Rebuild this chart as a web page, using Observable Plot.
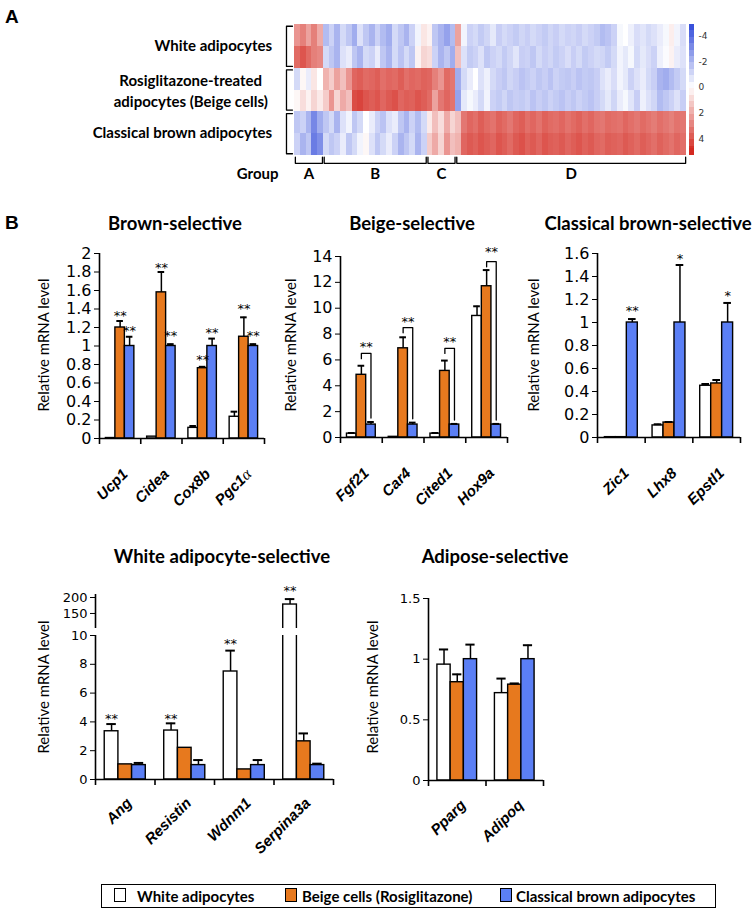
<!DOCTYPE html>
<html><head><meta charset="utf-8">
<script src="https://cdn.jsdelivr.net/npm/d3@7"></script>
<script src="https://cdn.jsdelivr.net/npm/@observablehq/plot@0.6"></script>
<style>
body{margin:0;background:#fff;}
#page{position:relative;width:756px;height:918px;overflow:hidden;background:#fff;}
.title{position:absolute;font:bold 18.5px Lato,sans-serif;transform:translate(-50%,-50%);white-space:nowrap;color:#000;}
.ylab{position:absolute;font:15px Lato,sans-serif;white-space:nowrap;transform:translate(-50%,-50%) rotate(-90deg);color:#000;}
.panel{position:absolute;font:bold 19px "Liberation Sans",Arial,sans-serif;color:#000;}
.legtxt{position:absolute;font:bold 15px Lato,sans-serif;white-space:nowrap;transform:translateY(-50%);}
.legsq{position:absolute;width:10px;height:12px;border:1.4px solid #000;}
svg{overflow:visible;}
</style></head><body><div id="page"></div>
<script>
// ================= DATA =================
// Panel A heatmap (z-scores), 6 rows: White r1, White r2, Beige r1, Beige r2, Brown r1, Brown r2
const heatSampleNames = ["White adipocytes", "Rosiglitazone-treated\nadipocytes (Beige cells)", "Classical brown adipocytes"];
const heatGroupNames = ["A", "B", "C", "D"];
const heatGroupA = [
  [2.5, 3.0, 2.2, 3.0, 2.0],
  [3.5, 4.0, 3.5, 3.0, 2.8],
  [-1.0, 0.2, -0.5, 0.6, 0.0],
  [0.2, 0.8, 0.3, 1.0, 0.5],
  [-1.5, -1.2, -2.0, -3.2, -2.2],
  [-1.2, -2.0, -1.5, -3.5, -3.0]
];
const heatGroupB = [
  [-1.8, -1.2, -2.0, -1.0, -1.5, -2.2, -0.8, -1.5, -2.0, -1.2, -1.8, -2.2, -1.0, -1.5, -2.0, -1.2, -0.3, 0.6],
  [-1.0, -1.5, -2.0, -0.8, -0.5, -1.5, -2.0, -1.0, -1.2, -0.5, -1.5, -2.0, -1.0, -1.6, -1.0, -1.5, 0.3, 1.0],
  [1.8, 1.2, 2.2, 1.5, 2.5, 3.6, 3.8, 3.5, 3.6, 3.8, 3.4, 3.6, 3.5, 3.8, 3.4, 3.6, 3.5, 3.7],
  [1.2, 2.5, 1.0, 2.0, 1.5, 4.2, 4.4, 4.0, 3.8, 4.0, 3.6, 3.9, 4.1, 3.6, 3.8, 3.7, 4.0, 3.8],
  [-1.5, -1.0, -2.0, -0.8, -0.3, -1.5, -1.0, 0.0, -0.5, -1.2, -1.6, -0.8, -0.5, -1.5, -2.0, -1.2, -1.8, -1.0],
  [-1.0, -1.5, -1.2, -0.5, -1.5, -1.0, -0.3, 0.2, -0.8, -1.5, -1.0, -0.5, -1.2, -2.0, -1.5, -1.0, -2.0, -1.2]
];
const heatGroupC = [
  [0.3, -1.5, -2.0, -2.5, -1.8],
  [0.8, -1.2, -2.0, -1.5, -2.2],
  [3.6, 3.0, 2.5, 3.5, 3.2],
  [3.5, 2.2, 3.2, 3.6, 3.3],
  [0.5, 1.5, 0.8, 2.0, 1.0],
  [1.2, 2.0, 1.0, 2.5, 1.5]
];
const heatGroupD = [
  [2.2, -0.3, -1.2, -1.0, -1.4, -1.1, -0.6, -1.3, -1.0, -1.2, -1.4, -1.1, -1.3, -1.0, -1.2, -1.4, -1.1, -1.3, -1.0, -1.2, -1.1, -1.3, -1.0, -1.2, -1.4, -1.8, -1.6, -1.2, -0.2, 0.0, -0.4, -0.9, -0.7, -1.0, -0.8, -0.5, -0.2, 0.4, -0.3, -0.9],
  [1.5, -0.8, -1.4, -1.2, -0.8, -1.5, -1.2, -1.0, -1.4, -1.1, -0.7, -1.3, -1.2, -1.5, -1.0, -1.3, -1.1, -1.4, -1.2, -0.9, -1.3, -1.0, -1.4, -1.2, -1.0, -1.1, -1.4, -1.0, -0.3, -0.6, -0.2, -1.0, -0.6, -0.9, -1.2, -0.4, -0.1, 0.3, -0.5, -0.8],
  [-2.2, -1.0, -0.5, 0.0, -0.8, -0.4, -1.0, -1.3, -1.5, -1.1, -1.3, -1.6, -1.4, -1.2, -1.5, -1.3, -1.6, -1.2, -1.4, -1.5, -1.3, -1.6, -1.4, -1.5, -1.3, -0.8, -0.5, -0.9, -0.3, -0.6, -1.2, -0.8, -0.5, -1.0, -1.3, -2.0, -2.2, -1.8, -1.4, -1.0],
  [-2.5, -0.6, -0.2, -0.5, -1.0, -0.3, -1.2, -1.4, -1.1, -1.5, -1.3, -1.4, -1.2, -1.6, -1.3, -1.5, -1.2, -1.4, -1.6, -1.3, -1.5, -1.2, -1.4, -1.6, -1.3, -1.0, -0.6, -1.1, -0.5, -0.2, -0.7, -1.3, -0.4, -0.8, -1.1, -1.8, -1.5, -1.2, -0.8, -1.3],
  [1.5, 3.2, 3.6, 3.4, 3.8, 3.5, 3.3, 3.7, 3.5, 3.2, 3.6, 3.8, 3.4, 3.6, 3.3, 3.7, 3.5, 3.4, 3.6, 3.3, 3.5, 3.7, 3.4, 3.6, 3.3, 3.2, 3.5, 3.4, 3.3, 3.6, 3.4, 3.2, 3.5, 3.3, 3.1, 3.4, 3.2, 3.0, 3.3, 3.2],
  [1.8, 3.6, 3.9, 3.7, 4.0, 3.8, 3.6, 4.0, 3.8, 3.5, 3.9, 4.1, 3.7, 3.9, 3.6, 4.0, 3.8, 3.7, 3.9, 3.6, 3.8, 4.0, 3.7, 3.9, 3.6, 3.5, 3.8, 3.7, 3.6, 3.9, 3.7, 3.5, 3.8, 3.6, 3.4, 3.7, 3.5, 3.3, 3.6, 3.4]
];
const colorbarTicks = [-4, -2, 0, 2, 4];
const colorbarSteps = [-4.65, -4.15, -3.65, -3.15, -2.65, -2.15, -1.65, -1.15, -0.65, -0.15, 0.35, 0.85, 1.35, 1.85, 2.35, 2.85, 3.35, 3.85, 4.35, 4.85, 5.05];

// Panel B bar charts
const seriesKeys = ["W", "O", "B"];
const seriesColors = ["#ffffff", "#e7791e", "#5b7ff5"];
const legendLabels = ["White adipocytes", "Beige cells (Rosiglitazone)", "Classical brown adipocytes"];

const brownGenes = ["Ucp1", "Cidea", "Cox8b", "Pgc1α"];
const brownWhite = [0.005, 0.02, 0.115, 0.235];
const brownWhiteErr = [null, null, 0.135, 0.29];
const brownBeige = [1.2, 1.58, 0.76, 1.1];
const brownBeigeErr = [1.27, 1.8, 0.775, 1.31];
const brownClassical = [1, 1, 1, 1];
const brownClassicalErr = [1.1, 1.02, 1.08, 1.02];
const brownStarBeige = [1.36, 1.88, 0.89, 1.44];
const brownStarClassical = [1.2, 1.15, 1.18, 1.15];
const brownTicks = [0, 0.2, 0.4, 0.6, 0.8, 1, 1.2, 1.4, 1.6, 1.8, 2];

const beigeGenes = ["Fgf21", "Car4", "Cited1", "Hox9a"];
const beigeWhite = [0.3, 0.05, 0.3, 9.4];
const beigeWhiteErr = [0.35, null, 0.35, 10.15];
const beigeBeige = [4.85, 6.9, 5.15, 11.7];
const beigeBeigeErr = [5.55, 7.75, 5.95, 12.95];
const beigeClassical = [1, 1, 1, 1];
const beigeClassicalErr = [1.2, 1.15, 1.05, 1.05];
const beigeBracketTop = [6.5, 8.5, 6.9, 13.6];
const beigeBracketRightEnd = [1.5, 1.45, 1.35, 1.35];
const beigeStar = [7.25, 9.25, 7.65, 14.6];
const beigeTicks = [0, 2, 4, 6, 8, 10, 12, 14];

const classicalGenes = ["Zic1", "Lhx8", "Epstl1"];
const classicalWhite = [0.003, 0.105, 0.45];
const classicalWhiteErr = [null, 0.115, 0.465];
const classicalBeige = [0.003, 0.13, 0.47];
const classicalBeigeErr = [null, 0.135, 0.5];
const classicalClassical = [1, 1, 1];
const classicalClassicalErr = [1.03, 1.5, 1.17];
const classicalStarText = ["**", "*", "*"];
const classicalStar = [1.13, 1.58, 1.26];
const classicalTicks = [0, 0.2, 0.4, 0.6, 0.8, 1, 1.2, 1.4, 1.6];

const whiteGenes = ["Ang", "Resistin", "Wdnm1", "Serpina3a"];
const whiteWhite = [3.35, 3.4, 7.5, 178];
const whiteWhiteErr = [3.85, 3.9, 8.95, 195];
const whiteBeige = [1.05, 2.2, 0.7, 2.65];
const whiteBeigeErr = [null, null, null, 3.2];
const whiteClassical = [1, 1, 1, 1];
const whiteClassicalErr = [1.15, 1.35, 1.35, 1.1];
const whiteStar = [4.45, 4.45, 9.65, 231];
const whiteTicksLow = [0, 2, 4, 6, 8, 10];
const whiteTicksHigh = [150, 200];

const adiposeGenes = ["Pparg", "Adipoq"];
const adiposeWhite = [0.955, 0.72];
const adiposeWhiteErr = [1.08, 0.84];
const adiposeBeige = [0.81, 0.79];
const adiposeBeigeErr = [0.875, 0.8];
const adiposeClassical = [1, 1];
const adiposeClassicalErr = [1.12, 1.115];
const adiposeTicks = [0, 0.5, 1, 1.5];

// ================= HELPERS =================
const page = document.getElementById("page");
function put(el, left, top) {
  el.style.position = "absolute"; el.style.left = left + "px"; el.style.top = top + "px";
  page.appendChild(el); return el;
}
function div(cls, text, left, top) {
  const d = document.createElement("div"); d.className = cls; d.textContent = text;
  return put(d, left, top);
}
const heatColor = {type: "linear", domain: [-5, 5],
  interpolate: d3.piecewise(d3.interpolateRgb, ["#2a44d8", "#ffffff", "#d42b22"])};

// ================= PANEL A =================
const blocks = [heatGroupA, heatGroupB, heatGroupC, heatGroupD];
const cells = [];
const groupSpans = [];
let col = 0;
blocks.forEach((blk, g) => {
  const n = blk[0].length;
  blk.forEach((row, r) => row.forEach((v, j) => cells.push({r, c: col + j, v})));
  groupSpans.push({name: heatGroupNames[g], c0: col, c1: col + n});
  col += n;
});
const nCols = col;
const sampleSpans = heatSampleNames.map((name, k) => ({name, k, r0: 2 * k, r1: 2 * k + 2}));
const leftBr = sampleSpans.flatMap(s => [
  {k: s.k, x: -0.35, y: s.r0 + 0.08}, {k: s.k, x: -1.39, y: s.r0 + 0.08},
  {k: s.k, x: -1.39, y: s.r1 - 0.08}, {k: s.k, x: -0.35, y: s.r1 - 0.08}]);
const botBr = groupSpans.flatMap((s, k) => [
  {k, x: s.c0 + 0.15, y: 6.08}, {k, x: s.c0 + 0.15, y: 6.36},
  {k, x: s.c1 - 0.15, y: 6.36}, {k, x: s.c1 - 0.15, y: 6.08}]);
const labFont = {fontFamily: "Lato", fontWeight: "bold", fontSize: 15, fill: "black"};

const plotA = Plot.plot({
  width: 756, height: 192, marginLeft: 294, marginRight: 70, marginTop: 24, marginBottom: 37,
  x: {domain: [0, nCols], axis: null},
  y: {domain: [0, 6], reverse: true, axis: null},
  color: heatColor,
  style: {background: "transparent", color: "black"},
  marks: [
    Plot.rect(cells, {x1: "c", x2: d => d.c + 1, y1: "r", y2: d => d.r + 1, fill: "v", shapeRendering: "crispEdges"}),
    Plot.line(leftBr, {x: "x", y: "y", z: "k", stroke: "black", strokeWidth: 1.3}),
    Plot.line(botBr, {x: "x", y: "y", z: "k", stroke: "black", strokeWidth: 1.3}),
    Plot.text(sampleSpans.filter(s => s.k !== 1), {x: () => -3.9, y: s => (s.r0 + s.r1) / 2, text: "name", textAnchor: "end", ...labFont}),
    Plot.text(sampleSpans.filter(s => s.k === 1), {x: () => -18, y: s => (s.r0 + s.r1) / 2, text: "name", textAnchor: "middle", lineHeight: 1.4, ...labFont}),
    Plot.text(groupSpans, {x: s => (s.c0 + s.c1) / 2, y: () => 6.85, text: "name", ...labFont}),
    Plot.text(["Group"], {x: () => -6.4, y: () => 6.85, text: d => d, ...labFont})
  ]
});
put(plotA, 0, 0);

const plotCB = Plot.plot({
  width: 40, height: 136, marginLeft: 3, marginRight: 32, marginTop: 2, marginBottom: 3,
  x: {domain: [0, 1], axis: null},
  y: {domain: [-4.9, 5.3], reverse: true, axis: "right", ticks: colorbarTicks, tickSize: 0, tickPadding: 4, tickFormat: d => String(d), label: null},
  color: heatColor,
  style: {background: "transparent", color: "#333", fontFamily: "DejaVu Sans", fontSize: "9px"},
  marks: [
    Plot.rect(colorbarSteps, {x1: 0, x2: 1, y1: d => d - 0.26, y2: d => d + 0.26, fill: d => d, shapeRendering: "crispEdges"})
  ]
});
put(plotCB, 686, 22);

div("panel", "A", 5, 6);
div("panel", "B", 5, 212);

// ================= PANEL B =================
const barLeft = {W: 0.155, O: 0.385, B: 0.615};
const barW = 0.23;
const capHalf = 0.08;
function makeRows(genes, vals, errs) {
  const rows = [];
  genes.forEach((g, i) => seriesKeys.forEach((s, k) => rows.push({g, i, s, v: vals[k][i], e: errs[k][i]})));
  return rows;
}
const cxOf = d => d.i + barLeft[d.s] + barW / 2;

function barPlot(o) {
  const n = o.genes.length;
  const ky = (o.height - o.mT - o.mB) / (o.yDomain[1] - o.yDomain[0]);
  const tick = 6 / ky;
  const errRows = o.rows.filter(d => d.e != null);
  const marks = [
    Plot.rect(o.rows, {x1: d => d.i + barLeft[d.s], x2: d => d.i + barLeft[d.s] + barW, y1: 0, y2: "v", fill: "s", stroke: "black", strokeWidth: 1.4, clip: !!o.clip}),
    Plot.ruleX(errRows, {x: cxOf, y1: "v", y2: "e", stroke: "black", strokeWidth: 1.5, clip: !!o.clip}),
    Plot.ruleY(errRows, {y: "e", x1: d => cxOf(d) - capHalf, x2: d => cxOf(d) + capHalf, stroke: "black", strokeWidth: 2, clip: !!o.clip}),
    Plot.ruleX([0], {y1: o.yDomain[0], y2: o.yDomain[1], stroke: "black", strokeWidth: 1.6})
  ];
  if (o.xAxis) {
    const bounds = o.genes.map((g, i) => i).concat([n]);
    marks.push(Plot.ruleY([0], {x1: 0, x2: n, stroke: "black", strokeWidth: 1.6}));
    marks.push(Plot.ruleX(bounds, {x: d => d, y1: 0, y2: -tick, stroke: "black", strokeWidth: 1.6}));
    marks.push(Plot.text(o.genes, {x: (d, i) => i + 0.5, y: 0, text: d => d, rotate: -45, textAnchor: "end", lineAnchor: "top",
      dx: o.labDx, dy: o.labDy, fontFamily: "Liberation Sans", fontWeight: "bold", fontStyle: "italic", fontSize: 15, fill: "black"}));
  }
  if (o.stars) marks.push(Plot.text(o.stars, {x: "x", y: "y", text: "t", dy: 3.5, fontFamily: "DejaVu Sans", fontSize: 13, fill: "#000", opacity: 0.99}));
  if (o.brackets) marks.push(Plot.line(o.brackets, {x: "x", y: "y", z: "k", stroke: "black", strokeWidth: 1.3}));
  const svg = Plot.plot({
    width: o.width, height: o.height, marginLeft: o.mL, marginRight: o.mR, marginTop: o.mT, marginBottom: o.mB,
    x: {domain: [0, n], axis: null},
    y: {domain: o.yDomain, ticks: o.yTicks, tickSize: 5, tickPadding: 3, tickFormat: d => String(d), label: null},
    color: {domain: seriesKeys, range: seriesColors},
    style: {background: "transparent", color: "black", fontFamily: "DejaVu Sans", fontSize: o.tickFont + "px"},
    marks
  });
  svg.querySelectorAll("text").forEach(t => {
    if (t.textContent === "Pgc1α") {
      t.textContent = "Pgc1";
      const ts = document.createElementNS("http://www.w3.org/2000/svg", "tspan");
      ts.textContent = "α";
      ts.setAttribute("font-family", "Liberation Serif");
      ts.setAttribute("font-weight", "normal");
      ts.setAttribute("font-size", "16");
      t.appendChild(ts);
    }
  });
  return put(svg, o.left, o.top);
}

// Chart 1: Brown-selective
const brownRows = makeRows(brownGenes, [brownWhite, brownBeige, brownClassical], [brownWhiteErr, brownBeigeErr, brownClassicalErr]);
const brownStars = brownGenes.flatMap((g, i) => [
  {x: i + barLeft.O + barW / 2, y: brownStarBeige[i], t: "**"},
  {x: i + barLeft.B + barW / 2, y: brownStarClassical[i], t: "**"}]);
barPlot({genes: brownGenes, rows: brownRows, yDomain: [0, 2], yTicks: brownTicks, left: 0, top: 230, width: 270, height: 270,
  mL: 99, mR: 6, mT: 23, mB: 62, tickFont: 16, xAxis: true, labDx: 1, labDy: 29, stars: brownStars});

// Chart 2: Beige-selective
const beigeRows = makeRows(beigeGenes, [beigeWhite, beigeBeige, beigeClassical], [beigeWhiteErr, beigeBeigeErr, beigeClassicalErr]);
const beigeStars = beigeGenes.map((g, i) => ({x: i + barLeft.B, y: beigeStar[i], t: "**"}));
const beigeBr = beigeGenes.flatMap((g, i) => [
  {k: i, x: i + barLeft.O + barW / 2, y: beigeBracketTop[i] - 0.4},
  {k: i, x: i + barLeft.O + barW / 2, y: beigeBracketTop[i]},
  {k: i, x: i + barLeft.B + barW / 2, y: beigeBracketTop[i]},
  {k: i, x: i + barLeft.B + barW / 2, y: beigeBracketRightEnd[i]}]);
barPlot({genes: beigeGenes, rows: beigeRows, yDomain: [0, 14], yTicks: beigeTicks, left: 270, top: 230, width: 250, height: 270,
  mL: 70, mR: 13, mT: 26, mB: 63, tickFont: 16, xAxis: true, labDx: 1, labDy: 29, stars: beigeStars, brackets: beigeBr});

// Chart 3: Classical brown-selective
const classicalRows = makeRows(classicalGenes, [classicalWhite, classicalBeige, classicalClassical], [classicalWhiteErr, classicalBeigeErr, classicalClassicalErr]);
const classicalStars = classicalGenes.map((g, i) => ({x: i + barLeft.B + barW / 2, y: classicalStar[i], t: classicalStarText[i]}));
barPlot({genes: classicalGenes, rows: classicalRows, yDomain: [0, 1.6], yTicks: classicalTicks, left: 520, top: 230, width: 236, height: 270,
  mL: 77, mR: 16, mT: 23, mB: 63, tickFont: 16, xAxis: true, labDx: 1, labDy: 29, stars: classicalStars});

// Chart 4: White adipocyte-selective (broken axis: upper + lower)
const whiteRows = makeRows(whiteGenes, [whiteWhite, whiteBeige, whiteClassical], [whiteWhiteErr, whiteBeigeErr, whiteClassicalErr]);
const whiteStarsAll = whiteGenes.map((g, i) => ({x: i + barLeft.W + barW / 2, y: whiteStar[i], t: "**"}));
barPlot({genes: whiteGenes, rows: whiteRows, yDomain: [103, 209.4], yTicks: whiteTicksHigh, left: 0, top: 570, width: 345, height: 60,
  mL: 95, mR: 12, mT: 24, mB: 2, tickFont: 13, xAxis: false, clip: true, stars: whiteStarsAll.filter(s => s.y > 10)});
barPlot({genes: whiteGenes, rows: whiteRows, yDomain: [0, 10], yTicks: whiteTicksLow, left: 0, top: 630, width: 345, height: 240,
  mL: 95, mR: 12, mT: 5, mB: 91, tickFont: 13, xAxis: true, clip: true, labDx: 0, labDy: 17, stars: whiteStarsAll.filter(s => s.y <= 10)});

// Chart 5: Adipose-selective
const adiposeRows = makeRows(adiposeGenes, [adiposeWhite, adiposeBeige, adiposeClassical], [adiposeWhiteErr, adiposeBeigeErr, adiposeClassicalErr]);
barPlot({genes: adiposeGenes, rows: adiposeRows, yDomain: [0, 1.5], yTicks: adiposeTicks, left: 345, top: 570, width: 240, height: 300,
  mL: 83, mR: 42, mT: 28, mB: 90, tickFont: 13, xAxis: true, labDx: 2, labDy: 18});

// Titles & y labels
div("title", "Brown-selective", 175, 223);
div("title", "Beige-selective", 412, 223);
div("title", "Classical brown-selective", 648, 223);
div("title", "White adipocyte-selective", 222, 556);
div("title", "Adipose-selective", 495, 556);
[[43, 345], [290, 345], [533, 345], [43, 687], [372, 687]].forEach(([x, y]) => div("ylab", "Relative mRNA level", x, y));

// Legend
const box = document.createElement("div");
box.style.cssText = "width:613px;height:22px;border:1.5px solid #000;";
put(box, 101, 884);
const legSq = [114, 285, 500], legTx = [137, 302, 516];
legendLabels.forEach((lab, k) => {
  const sq = document.createElement("div"); sq.className = "legsq"; sq.style.background = seriesColors[k];
  put(sq, legSq[k], 888);
  div("legtxt", lab, legTx[k], 896);
});
</script></body></html>
